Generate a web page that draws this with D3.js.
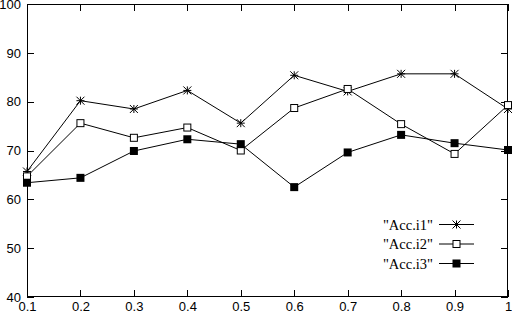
<!DOCTYPE html>
<html>
<head>
<meta charset="utf-8">
<script src="https://cdn.jsdelivr.net/npm/d3@7"></script>
<style>
  html, body { margin: 0; padding: 0; background: #fff; }
  svg { display: block; }
  .tick text { font-family: "Liberation Sans", sans-serif; font-size: 13px; fill: #000; }
</style>
</head>
<body>
<div id="chart"></div>
<script>
// data
const xValues = [0.1, 0.2, 0.3, 0.4, 0.5, 0.6, 0.7, 0.8, 0.9, 1.0];
const acc1 = [65.7, 80.2, 78.5, 82.3, 75.6, 85.4, 82.1, 85.7, 85.7, 78.5];
const acc2 = [64.7, 75.6, 72.6, 74.7, 70.0, 78.7, 82.6, 75.4, 69.3, 79.3];
const acc3 = [63.4, 64.4, 69.9, 72.3, 71.3, 62.5, 69.6, 73.2, 71.5, 70.1];
const seriesNames = ['"Acc.i1"', '"Acc.i2"', '"Acc.i3"'];
const seriesMarks = ['star', 'openSquare', 'filledSquare'];
const xTicks = [0.1, 0.2, 0.3, 0.4, 0.5, 0.6, 0.7, 0.8, 0.9, 1];
const yTicks = [40, 50, 60, 70, 80, 90, 100];

const width = 512, height = 314;
const margin = { top: 4, right: 4, bottom: 17, left: 27 };

const svg = d3.select('#chart').append('svg')
  .attr('width', width)
  .attr('height', height);

const x = d3.scaleLinear().domain([0.1, 1]).range([margin.left, width - margin.right]);
const y = d3.scaleLinear().domain([40, 100]).range([height - margin.bottom, margin.top]);

const tickLen = 7;
const fmtX = d => d === 1 ? '1' : d3.format('.1f')(d);

// axes: ticks inward on all four sides, labels only bottom/left
svg.append('g')
  .attr('transform', `translate(0,${y(40)})`)
  .call(d3.axisBottom(x).tickValues(xTicks).tickFormat(fmtX).tickSizeInner(-tickLen).tickSizeOuter(0).tickPadding(5))
  .call(g => g.select('.domain').remove());
svg.append('g')
  .attr('transform', `translate(0,${y(100)})`)
  .call(d3.axisTop(x).tickValues(xTicks).tickFormat('').tickSizeInner(-tickLen).tickSizeOuter(0))
  .call(g => g.select('.domain').remove());
svg.append('g')
  .attr('transform', `translate(${x(0.1)},0)`)
  .call(d3.axisLeft(y).tickValues(yTicks).tickSizeInner(-tickLen).tickSizeOuter(0).tickPadding(6))
  .call(g => g.select('.domain').remove());
svg.append('g')
  .attr('transform', `translate(${x(1)},0)`)
  .call(d3.axisRight(y).tickValues(yTicks).tickFormat('').tickSizeInner(-tickLen).tickSizeOuter(0))
  .call(g => g.select('.domain').remove());

svg.selectAll('.tick line').attr('stroke', '#000').attr('shape-rendering', 'crispEdges');

// frame
svg.append('rect')
  .attr('x', x(0.1) + 0.5).attr('y', y(100) + 0.5)
  .attr('width', x(1) - x(0.1) - 1).attr('height', y(40) - y(100) - 1)
  .attr('fill', 'none').attr('stroke', '#000');

function drawMark(g, type, cx, cy) {
  if (type === 'star') {
    const r = 4;
    g.append('path')
      .attr('d', `M${cx - r},${cy}H${cx + r}M${cx},${cy - r}V${cy + r}M${cx - r},${cy - r}L${cx + r},${cy + r}M${cx - r},${cy + r}L${cx + r},${cy - r}`)
      .attr('stroke', '#000').attr('fill', 'none');
  } else if (type === 'openSquare') {
    g.append('rect').attr('x', cx - 3.5).attr('y', cy - 3.5).attr('width', 7).attr('height', 7)
      .attr('fill', '#fff').attr('stroke', '#000');
  } else {
    g.append('rect').attr('x', cx - 4).attr('y', cy - 4).attr('width', 8).attr('height', 8)
      .attr('fill', '#000');
  }
}

const line = d3.line().x((d, i) => x(xValues[i])).y(d => y(d));
const allSeries = [acc1, acc2, acc3];

allSeries.forEach((vals, k) => {
  svg.append('path').datum(vals)
    .attr('d', line)
    .attr('fill', 'none').attr('stroke', '#000').attr('stroke-width', 1);
});
allSeries.forEach((vals, k) => {
  const g = svg.append('g');
  vals.forEach((v, i) => drawMark(g, seriesMarks[k], x(xValues[i]), y(v)));
});

// legend
const legY = [224.5, 244, 263.5];
seriesNames.forEach((name, k) => {
  const g = svg.append('g');
  g.append('text')
    .attr('x', 433).attr('y', legY[k] + 5)
    .attr('text-anchor', 'end')
    .style('font-family', '"Liberation Serif", serif')
    .style('font-size', '14.5px')
    .text(name);
  g.append('line')
    .attr('x1', 439).attr('x2', 474).attr('y1', legY[k]).attr('y2', legY[k])
    .attr('stroke', '#000');
  drawMark(g, seriesMarks[k], 456.5, legY[k]);
});
</script>
</body>
</html>
